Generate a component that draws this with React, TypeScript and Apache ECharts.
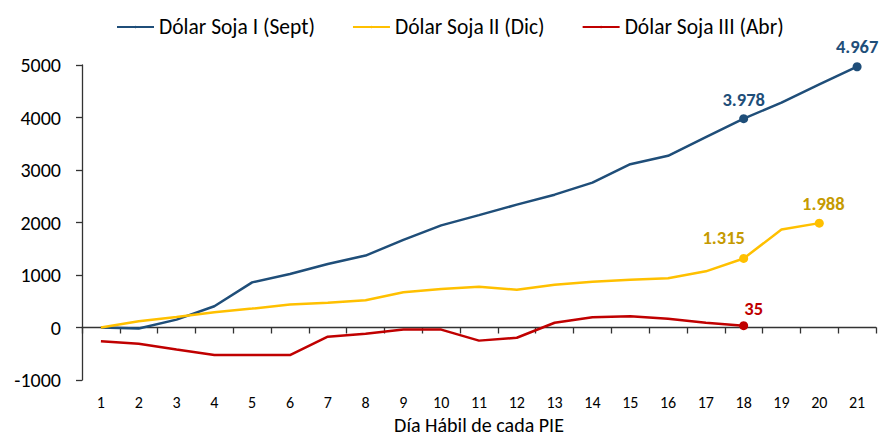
import React, { useEffect, useRef } from "react";
import * as echarts from "echarts";

const categories = ["1","2","3","4","5","6","7","8","9","10","11","12","13","14","15","16","17","18","19","20","21"];
const sojaI = [0, -20, 150, 405, 860, 1020, 1210, 1370, 1670, 1945, 2140, 2340, 2530, 2760, 3110, 3270, 3625, 3978, 4285, 4630, 4967];
const sojaII = [0, 120, 200, 290, 360, 440, 470, 520, 670, 735, 775, 720, 815, 870, 910, 940, 1070, 1315, 1865, 1988, null];
const sojaIII = [-260, -310, -420, -525, -525, -525, -175, -120, -40, -40, -250, -195, 90, 195, 215, 165, 90, 35, null, null, null];
const seriesNames = ["Dólar Soja I (Sept)", "Dólar Soja II (Dic)", "Dólar Soja III (Abr)"];
const labelTexts = { I18: "3.978", I21: "4.967", II18: "1.315", II20: "1.988", III18: "35" };

const FONT = "Carlito, Lato, 'Liberation Sans', sans-serif";

export default function App() {
  const ref = useRef<HTMLDivElement>(null);
  useEffect(() => {
    if (!ref.current) return;
    const chart = echarts.init(ref.current, null, { renderer: "svg" });
    const blue = "#1F4E79";
    const yellow = "#FFC000";
    const red = "#C00000";
    const mark = (v: number | null, text: string, color: string, pos: any, offset: number[]) => ({
      value: v,
      symbol: "circle",
      symbolSize: 9,
      label: {
        show: true,
        position: pos,
        offset,
        formatter: text,
        color,
        fontWeight: "bold",
        fontSize: 18.5,
        fontFamily: FONT,
      },
    });
    const blueData: any[] = sojaI.map((v) => v);
    blueData[17] = mark(sojaI[17], labelTexts.I18, blue, "top", [0, 0]);
    blueData[20] = mark(sojaI[20], labelTexts.I21, blue, "top", [0, -1]);
    const yellowData: any[] = sojaII.map((v) => v);
    yellowData[17] = mark(sojaII[17], labelTexts.II18, "#C59A00", "top", [-20, -2]);
    yellowData[19] = mark(sojaII[19], labelTexts.II20, "#C59A00", "top", [4, -1]);
    const redData: any[] = sojaIII.map((v) => v);
    redData[17] = mark(sojaIII[17], labelTexts.III18, red, "top", [10, 2]);

    chart.setOption({
      animation: false,
      textStyle: { fontFamily: FONT },
      legend: {
        top: 11,
        left: 111,
        itemWidth: 37,
        itemHeight: 3,
        itemGap: 37,
        textStyle: { fontSize: 21.5, color: "#000", fontFamily: FONT },
        data: seriesNames,
      },
      grid: { left: 82, right: 7, top: 65, bottom: 57, outerBoundsMode: "none" },
      xAxis: [
        {
          type: "category",
          data: categories,
          position: "bottom",
          axisLine: { show: false, onZero: false },
          axisTick: { show: false },
          axisLabel: { fontSize: 16, color: "#000", margin: 14, fontFamily: FONT },
          name: "Día Hábil de cada PIE",
          nameLocation: "middle",
          nameGap: 34,
          nameTextStyle: { fontSize: 20, color: "#000", fontFamily: FONT },
        },
        {
          type: "category",
          data: categories,
          position: "bottom",
          axisLine: { show: true, onZero: true, lineStyle: { color: "#333", width: 1.3 } },
          axisTick: { show: true, length: 6, lineStyle: { color: "#333", width: 1.3 } },
          axisLabel: { show: false },
        },
      ],
      yAxis: {
        type: "value",
        min: -1000,
        max: 5000,
        interval: 1000,
        axisLine: { show: true, lineStyle: { color: "#333", width: 1.3 } },
        axisTick: { show: true, length: 6, lineStyle: { color: "#333", width: 1.3 } },
        axisLabel: {
          fontSize: 20,
          color: "#000",
          margin: 21,
          fontFamily: FONT,
          formatter: (v: number) => String(v),
        },
        splitLine: { show: false },
      },
      series: [
        {
          name: seriesNames[0],
          type: "line",
          data: blueData,
          symbol: "none",
          lineStyle: { color: blue, width: 2.5 },
          itemStyle: { color: blue },
        },
        {
          name: seriesNames[1],
          type: "line",
          data: yellowData,
          symbol: "none",
          lineStyle: { color: yellow, width: 2.5 },
          itemStyle: { color: yellow },
        },
        {
          name: seriesNames[2],
          type: "line",
          data: redData,
          symbol: "none",
          lineStyle: { color: red, width: 2.5 },
          itemStyle: { color: red },
        },
      ],
    });
    return () => chart.dispose();
  }, []);
  return (
    <div
      ref={ref}
      style={{ position: "absolute", left: 0, top: 0, width: 883, height: 437 }}
    />
  );
}
